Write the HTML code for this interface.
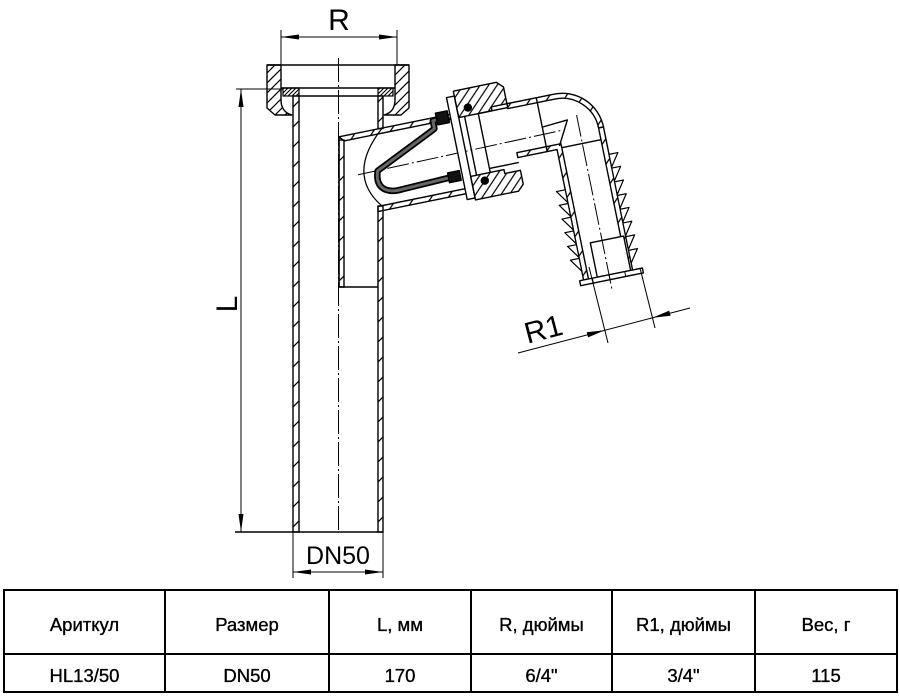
<!DOCTYPE html>
<html><head><meta charset="utf-8">
<style>
html,body{margin:0;padding:0;background:#fff;}
body{width:900px;height:697px;overflow:hidden;position:relative;}
svg{position:absolute;left:0;top:0;}
</style></head><body>
<svg width="900" height="697" viewBox="0 0 900 697" xmlns="http://www.w3.org/2000/svg">
<defs>
<pattern id="h" patternUnits="userSpaceOnUse" width="20" height="20">
<path d="M0,20 L20,0 M-2,2 L2,-2 M18,22 L22,18" stroke="#000" stroke-width="1.3"/>
</pattern>
<pattern id="hn" patternUnits="userSpaceOnUse" width="10" height="10">
<path d="M0,10 L10,0 M-2,2 L2,-2 M8,12 L12,8" stroke="#000" stroke-width="1.2"/>
</pattern>
<pattern id="hf" patternUnits="userSpaceOnUse" width="4" height="4">
<path d="M0,4 L4,0 M-1,1 L1,-1 M3,5 L5,3" stroke="#000" stroke-width="1.1"/>
</pattern>
</defs>

<!-- centerline main pipe -->
<line x1="338.5" y1="58" x2="338.5" y2="532" stroke="#000" stroke-width="1" stroke-dasharray="24 3 2 3"/>

<!-- main pipe walls -->
<g stroke="#000" stroke-width="1.4" fill="url(#h)">
<rect x="293" y="96" width="6" height="436"/>
<rect x="378" y="96" width="5" height="32.5"/>
<rect x="378" y="206" width="5" height="326"/>
<rect x="339" y="140" width="5" height="147"/>
</g>
<g stroke="#000" stroke-width="1.4" fill="none">
<line x1="339" y1="137" x2="339" y2="287"/>
<line x1="339" y1="287" x2="378" y2="287"/>
<line x1="235" y1="532" x2="383" y2="532"/>
</g>

<!-- top nut -->
<g stroke="#000" stroke-width="1.4" fill="url(#hn)" stroke-linejoin="round">
<path d="M267,65 H281 V100 Q281,112 292,115 H275 L267,108 Z"/>
<path d="M409,65 H395 V100 Q395,112 384,115 H401 L409,108 Z"/>
</g>
<g stroke="#000" stroke-width="1.2" fill="url(#hf)">
<rect x="283" y="88" width="16" height="8"/>
<rect x="378" y="88" width="15" height="8"/>
</g>
<g stroke="#000" stroke-width="1.4" fill="none">
<line x1="267" y1="65" x2="409" y2="65"/>
<line x1="281" y1="88" x2="395" y2="88"/>
<line x1="299" y1="96" x2="378" y2="96"/>
</g>

<!-- branch -->
<g transform="translate(362,174) rotate(-11.5)" stroke="#000" stroke-width="1.4" stroke-linejoin="round">
 <path d="M-15.1,-41 L100,-41 L100,-36 L-11,-36 Z" fill="url(#h)"/>
 <path d="M8.2,40 L100,40 L100,35 L9.2,35 Z" fill="url(#h)"/>
 <path d="M29,-41 Q-16,-3 13,35" fill="none" stroke-width="1.2"/>
 <line x1="-4" y1="0" x2="206" y2="-3" stroke-width="1" stroke-dasharray="22 3 2 3"/>
 <!-- seal -->
 <path d="M94,-39 L80,-38 L80,-30 L74,-27 L16,0 Q11,14 20,20 Q26,24 36,23 L86,21" fill="none" stroke="#000" stroke-width="6.5"/>
 <path d="M94,-39 L80,-38 L80,-30 L74,-27 L16,0 Q11,14 20,20 Q26,24 36,23 L86,21" fill="none" stroke="#666" stroke-width="3"/>
 <rect x="84" y="-45" width="12" height="12" fill="#111"/>
 <rect x="84" y="16" width="12" height="10" fill="#111"/>
 <!-- flange band -->
 <path d="M98,-58 L106,-58 L106,46 L98,46 Z" fill="#fff"/>
 <line x1="112" y1="-36" x2="112" y2="24"/>
 <line x1="126" y1="-36" x2="126" y2="24"/>
 <!-- nut -->
 <path d="M106,-63 L150,-63 L156,-57 L156,-40 L140,-40 L140,-36 L106,-36 Z" fill="url(#hn)"/>
 <path d="M106,24 L140,24 L140,28 L156,28 L156,42 L150,48 L106,48 Z" fill="url(#hn)"/>
 <circle cx="117" cy="-44" r="3.5" fill="#000"/>
 <circle cx="119" cy="31" r="3.5" fill="#000"/>
 <!-- tube after nut -->
 <line x1="126" y1="-36" x2="156" y2="-36"/>
 <line x1="126" y1="20" x2="156" y2="20"/>
 <!-- elbow -->
 <path d="M156,-40 L204,-40 A42,42 0 0 1 246,2 L241,2 A37,37 0 0 0 204,-35 L156,-35 Z" fill="url(#h)"/>
 <path d="M241,2 L246,2 L246,148 L241,148 Z" fill="url(#h)"/>
 <path d="M156,10 L201,10 L201,148 L196,148 L196,15 L156,15 Z" fill="url(#h)"/>
 <line x1="186" y1="-40" x2="186" y2="15"/>
 <path d="M186,-10 L212,-12 L199,12" fill="none"/>
 <line x1="201" y1="14" x2="241" y2="14"/>
 <!-- barbs -->
 <g fill="#fff" stroke-width="1.2">
  <path d="M196,69 L187,56 L196,56 Z"/>
  <path d="M196,83 L187,70 L196,70 Z"/>
  <path d="M196,97 L187,84 L196,84 Z"/>
  <path d="M196,111 L187,98 L196,98 Z"/>
  <path d="M196,125 L187,112 L196,112 Z"/>
  <path d="M196,139 L187,126 L196,126 Z"/>
  <path d="M246,43 L255,30 L246,30 Z"/>
  <path d="M246,57 L255,44 L246,44 Z"/>
  <path d="M246,71 L255,58 L246,58 Z"/>
  <path d="M246,85 L255,72 L246,72 Z"/>
  <path d="M246,99 L255,86 L246,86 Z"/>
  <path d="M246,113 L255,100 L246,100 Z"/>
  <path d="M246,127 L255,114 L246,114 Z"/>
  <path d="M246,141 L255,128 L246,128 Z"/>
 </g>
 <!-- end insert & flange -->
 <rect x="210" y="113" width="34" height="35" fill="#fff"/>
 <rect x="192" y="148" width="64" height="5" fill="#fff"/>
 <line x1="205" y1="148" x2="205" y2="153" stroke-width="1"/>
 <line x1="222" y1="148" x2="222" y2="153" stroke-width="1"/>
 <line x1="238" y1="148" x2="238" y2="153" stroke-width="1"/>
 <line x1="222" y1="-15" x2="222" y2="165" stroke-width="1" stroke-dasharray="22 3 2 3"/>
</g>

<!-- R dimension -->
<g stroke="#000" stroke-width="1" fill="none">
<line x1="281" y1="30" x2="281" y2="65"/>
<line x1="397" y1="30" x2="397" y2="65"/>
<line x1="281" y1="37" x2="397" y2="37"/>
<!-- L dimension -->
<line x1="236" y1="89" x2="283" y2="89"/>
<line x1="241" y1="89" x2="241" y2="532"/>
<!-- DN50 -->
<line x1="293" y1="532" x2="293" y2="578"/>
<line x1="383" y1="532" x2="383" y2="578"/>
<line x1="293" y1="572" x2="383" y2="572"/>
<!-- R1 -->
<line x1="589" y1="267" x2="608" y2="343"/>
<line x1="640" y1="268" x2="655" y2="328"/>
<line x1="518" y1="353" x2="690" y2="308"/>
</g>
<g fill="#000">
<polygon points="281,37 299,34.5 299,39.5"/>
<polygon points="397,37 379,34.5 379,39.5"/>
<polygon points="241,89 238.5,107 243.5,107"/>
<polygon points="241,532 238.5,514 243.5,514"/>
<polygon points="293,572 311,569.5 311,574.5"/>
<polygon points="383,572 365,569.5 365,574.5"/>
<polygon points="604.8,330.2 588.1,337.4 586.7,332.2"/>
<polygon points="652.5,317.8 670.6,315.8 669.2,310.6"/>
</g>
<g font-family="Liberation Sans, sans-serif" fill="#000" text-anchor="middle">
<text x="339" y="30" font-size="30">R</text>
<text transform="translate(237,304) rotate(-90)" font-size="30">L</text>
<text x="338" y="564" font-size="25">DN50</text>
<text transform="translate(546,339) rotate(-14.7)" font-size="30">R1</text>
</g>

<!-- table -->
<g stroke="#000" stroke-width="2" fill="none">
<rect x="4" y="590" width="893" height="102"/>
<line x1="4" y1="654" x2="897" y2="654"/>
<line x1="165" y1="590" x2="165" y2="692"/>
<line x1="329" y1="590" x2="329" y2="692"/>
<line x1="471" y1="590" x2="471" y2="692"/>
<line x1="612" y1="590" x2="612" y2="692"/>
<line x1="755" y1="590" x2="755" y2="692"/>
</g>
<g font-family="Liberation Sans, 'Noto Sans CJK SC', sans-serif" font-size="18.5" text-anchor="middle" fill="#000" stroke="#000" stroke-width="0.35">
<text x="84.5" y="631">Ариткул</text>
<text x="247" y="631">Размер</text>
<text x="400" y="631">L, мм</text>
<text x="541.5" y="631">R, дюймы</text>
<text x="683.5" y="631">R1, дюймы</text>
<text x="826" y="631">Вес, г</text>
<text x="84.5" y="682">HL13/50</text>
<text x="247" y="682">DN50</text>
<text x="400" y="682">170</text>
<text x="541.5" y="682">6/4"</text>
<text x="683.5" y="682">3/4"</text>
<text x="826" y="682">115</text>
</g>
</svg>
</body></html>
